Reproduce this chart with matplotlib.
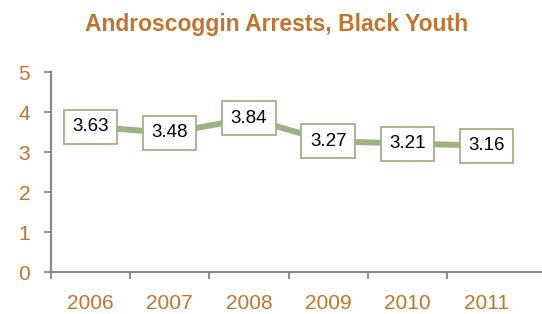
import matplotlib
matplotlib.use("Agg")
import matplotlib.pyplot as plt
import numpy as np

# ==============================
# DATOS
# ==============================

anios = ["2006", "2007", "2008", "2009", "2010", "2011"]
arrestos = [3.63, 3.48, 3.84, 3.27, 3.21, 3.16]
titulo = "Androscoggin Arrests, Black Youth"

NARANJA = "#C2742D"
VERDE = "#9DB283"
GRIS = "#868686"

plt.rcParams["font.family"] = ["Liberation Sans", "DejaVu Sans"]

fig = plt.figure(figsize=(5.42, 3.14), dpi=100)
ax = fig.add_axes([51 / 542, 42 / 314, 1 - 51 / 542, 200 / 314])

x = np.arange(len(anios))
ax.plot(x, arrestos, color=VERDE, linewidth=4.3, solid_capstyle="butt", zorder=2)

for xi, v in zip(x, arrestos):
    ax.text(xi, v, f"{v:.2f}", ha="center", va="center", fontsize=13.5, color="black",
            zorder=3,
            bbox=dict(boxstyle="square,pad=0.45", facecolor="white",
                      edgecolor=VERDE, linewidth=1.3))

ax.set_xlim(-0.5, 5.7)
ax.set_ylim(0, 5)
ax.set_yticks(range(6))

ax.set_xticks(x)
ax.set_xticklabels(anios)
ax.set_xticks(np.arange(-0.5, 5, 1), minor=True)
ax.tick_params(axis="x", which="major", length=0, pad=16, labelsize=15, labelcolor=NARANJA)
ax.tick_params(axis="x", which="minor", length=5, width=1.3, color=GRIS, direction="out")
ax.tick_params(axis="y", length=5, width=1.3, color=GRIS, pad=10, labelsize=15, labelcolor=NARANJA)

for s in ["top", "right"]:
    ax.spines[s].set_visible(False)
for s in ["left", "bottom"]:
    ax.spines[s].set_color(GRIS)
    ax.spines[s].set_linewidth(1.5)

fig.text(277 / 542, 1 - 24 / 314, titulo, ha="center", va="center",
         fontsize=16.5, fontweight="bold", color=NARANJA)

fig.savefig("out.png", dpi=100)
